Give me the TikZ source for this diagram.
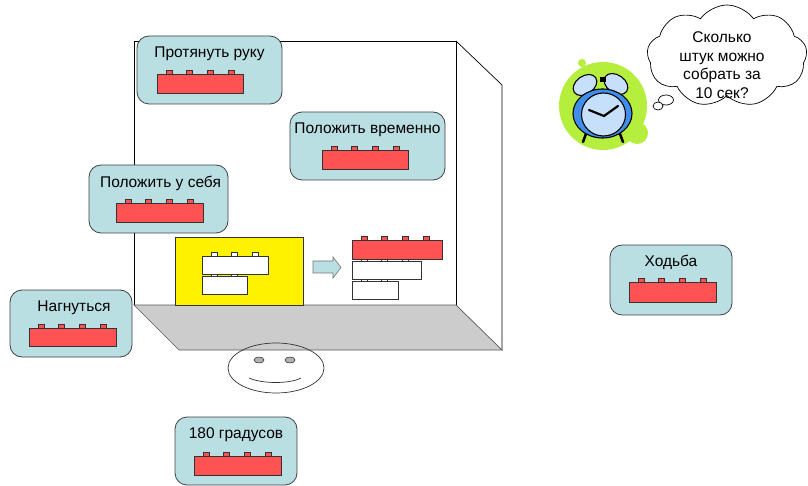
\documentclass[tikz,border=0pt]{standalone}
\usepackage{fontspec}
\setmainfont{Liberation Sans}
\usepackage{tikz}
\usetikzlibrary{calc,shapes.symbols}

\definecolor{cardblue}{HTML}{BADFE3}
\definecolor{brickred}{HTML}{FF5252}
\definecolor{lime}{HTML}{B6EE3E}
\definecolor{clockblue}{HTML}{3F8FEA}
\definecolor{facelight}{HTML}{C6DFFA}

% brick: left, top, width, height, studs, style
\newcommand{\legobrick}[6]{%
  \foreach \k in {1,...,#5}
    \draw[#6] ({#1+9+20.7*(\k-1)},#2) rectangle +(6,-4);
  \draw[#6] (#1,#2) rectangle +(#3,#4);
}

\begin{document}
\begin{tikzpicture}[x=1pt,y=-1pt]
 \tikzstyle{card}     = [draw=black!75,fill=cardblue,rounded corners=12pt,line width=0.8pt,inner sep=0pt];
 \tikzstyle{cardtext} = [anchor=base,inner sep=0pt,font=\fontsize{15.5}{18.5}\selectfont];
 \tikzstyle{brickR}   = [draw=black!80,fill=brickred,line width=0.6pt];
 \tikzstyle{brickW}   = [draw=black!80,fill=white,line width=0.6pt];
 \tikzstyle{wall}     = [draw=black,line width=0.7pt];
 \tikzstyle{floor}    = [draw=black!65,fill=black!20,line width=0.7pt];
 \tikzstyle{clockline} = [draw=black,line width=1.1pt];

 \useasboundingbox (0,0) rectangle (808,486);

 %% the room
 \draw[wall] (134,305) -- (134,41) -- (456,41) -- (456,305);
 \draw[wall] (456,41) -- (502,85) -- (502,350);
 \filldraw[floor] (134,305) -- (456,305) -- (502,350) -- (179,350) -- cycle;

 %% working area
 \draw[fill=yellow,draw=black!80,line width=0.7pt] (175,237) rectangle (303,305);
 \legobrick{202}{276}{45}{18}{2}{brickW}
 \legobrick{202}{256}{66}{18}{3}{brickW}

 \draw[fill=cardblue,draw=black!55,line width=0.6pt] (313,261) -- (333,261) -- (333,257)
   -- (341,267.5) -- (333,278) -- (333,273) -- (313,273) -- cycle;

 \legobrick{352}{281}{46}{18}{2}{brickW}
 \legobrick{352}{261}{69}{18}{3}{brickW}
 \legobrick{352}{240}{90}{19}{4}{brickR}

 %% face
 \draw[black!80,line width=0.7pt] (276,368) ellipse [x radius=48, y radius=25];
 \draw[black!80,fill=black!30,line width=0.6pt] (259,360) ellipse [x radius=5, y radius=3];
 \draw[black!80,fill=black!30,line width=0.6pt] (290,360) ellipse [x radius=5, y radius=3];
 \draw[black!80,line width=0.7pt] (249,378) .. controls (262,384) and (290,384) .. (301,378);

 %% [1] reach
 \node[card, name=reach, minimum width=145pt, minimum height=68pt] at (209.5,70) {};
 \node[cardtext, name=reachtxt] at ($(reach.north)+(0,22)$) {Протянуть руку};
 \legobrick{157}{74}{86}{19}{4}{brickR}

 %% [2] put aside
 \node[card, name=aside, minimum width=155pt, minimum height=68pt] at (367.5,146) {};
 \node[cardtext, name=asidetxt] at ($(aside.north)+(0,22)$) {Положить временно};
 \legobrick{322}{150}{86}{19}{4}{brickR}

 %% [3] keep
 \node[card, name=keep, minimum width=139pt, minimum height=68pt] at (158.5,199) {};
 \node[cardtext, name=keeptxt] at ($(keep.north)+(2,22.5)$) {Положить у себя};
 \legobrick{116}{203}{87}{19}{4}{brickR}

 %% [4] bend
 \node[card, name=bend, minimum width=122pt, minimum height=67pt] at (71,323.5) {};
 \node[cardtext, name=bendtxt] at ($(bend.north)+(3,22)$) {Нагнуться};
 \legobrick{29}{328}{87}{18}{4}{brickR}

 %% [5] turn
 \node[card, name=turn, minimum width=122pt, minimum height=68pt] at (236,451) {};
 \node[cardtext, name=turntxt] at ($(turn.north)+(0,22)$) {180 градусов};
 \legobrick{194}{456}{87}{19}{4}{brickR}

 %% [6] walk
 \node[card, name=walk, minimum width=122pt, minimum height=70pt] at (671,280) {};
 \node[cardtext, name=walktxt] at ($(walk.north)+(0,22)$) {Ходьба};
 \legobrick{629}{282}{87}{20}{4}{brickR}

 %% alarm clock
 \fill[lime] (603,106) circle (44);
 \fill[lime] (637,133) circle (11);
 \fill[lime] (582,63) circle (4);
 \draw[black,line width=2.5pt,line cap=round] (587,131) -- (583,142);
 \draw[black,line width=2.5pt,line cap=round] (619,131) -- (623,142);
 \draw[clockline,fill=facelight] (585,85) ellipse [x radius=13, y radius=9, rotate=35];
 \draw[clockline,fill=facelight] (616,84) ellipse [x radius=13, y radius=9, rotate=-35];
 \fill[black] (600,77) rectangle (606,82);
 \draw[clockline,fill=clockblue] (602.5,113.5) ellipse [x radius=29.5, y radius=24.5];
 \draw[clockline,fill=facelight] (603.5,114.5) ellipse [x radius=22, y radius=21.5];
 \draw[black,line width=2.2pt,line cap=round] (589,110) -- (604,116) -- (618,106);

 %% thought
 \node[cloud, cloud puffs=9, cloud puff arc=110, aspect=1.6, draw=black, fill=white, line width=0.7pt,
       minimum width=160pt, minimum height=102pt, name=thought] at (727,56) {};
 \draw[black,fill=white,line width=0.7pt] (666,100) ellipse [x radius=7.5, y radius=5];
 \draw[black,fill=white,line width=0.7pt] (658,106) ellipse [x radius=5, y radius=4];
 \node[align=center, inner sep=0pt, font=\fontsize{15.5}{18.5}\selectfont, name=question]
   at (722,65) {Сколько\\штук можно\\собрать за\\10 сек?};

\end{tikzpicture}
\end{document}
